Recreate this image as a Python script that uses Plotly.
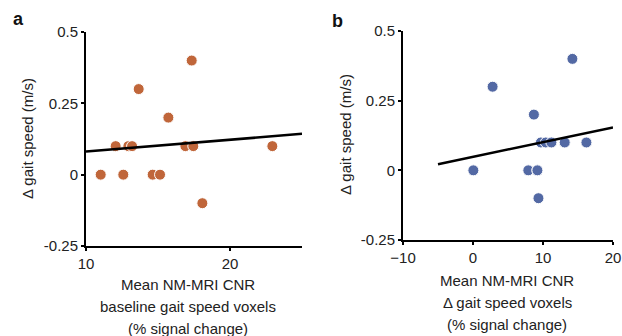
import plotly.graph_objects as go

# Panel a data
a_x = [11.02, 12.06, 12.94, 13.2, 12.59, 13.66, 14.63, 15.14, 15.72, 16.9, 17.45, 17.34, 18.08, 22.94]
a_y = [0.0, 0.1, 0.1, 0.1, 0.0, 0.3, 0.0, 0.0, 0.2, 0.1, 0.1, 0.4, -0.1, 0.1]
a_fit_x = [10, 25]
a_fit_y = [0.081, 0.143]

# Panel b data
b_x = [0.05, 2.8, 8.7, 7.9, 9.2, 9.2, 9.35, 9.7, 10.4, 11.2, 13.1, 13.1, 14.2, 16.2]
b_y = [0.0, 0.3, 0.2, 0.0, 0.0, 0.0, -0.1, 0.1, 0.1, 0.1, 0.1, 0.1, 0.4, 0.1]
b_fit_x = [-5, 20]
b_fit_y = [0.022, 0.154]

y_ticks = [-0.25, 0, 0.25, 0.5]
y_ticktext = ["-0.25", "0", "0.25", "0.5"]
a_xticks = [10, 20]
b_xticks = [-10, 0, 10, 20]

ORANGE = "#C0663A"
BLUE = "#5369A4"
FONT = "Liberation Sans, Arial, sans-serif"

fig = go.Figure()
fig.add_trace(go.Scatter(x=a_x, y=a_y, mode="markers", xaxis="x", yaxis="y",
                         marker=dict(color=ORANGE, size=11, line=dict(color="white", width=1)),
                         showlegend=False, cliponaxis=False))
fig.add_trace(go.Scatter(x=a_fit_x, y=a_fit_y, mode="lines", xaxis="x", yaxis="y",
                         line=dict(color="black", width=2.5), showlegend=False))
fig.add_trace(go.Scatter(x=b_x, y=b_y, mode="markers", xaxis="x2", yaxis="y2",
                         marker=dict(color=BLUE, size=11, line=dict(color="white", width=1)),
                         showlegend=False, cliponaxis=False))
fig.add_trace(go.Scatter(x=b_fit_x, y=b_fit_y, mode="lines", xaxis="x2", yaxis="y2",
                         line=dict(color="black", width=2.5), showlegend=False))

axis_common = dict(showgrid=False, zeroline=False, showline=True, linecolor="black",
                   linewidth=2, ticks="outside", ticklen=3, tickwidth=2, tickcolor="black",
                   automargin=False,
                   tickfont=dict(family=FONT, size=15, color="#222"))

fig.update_layout(
    width=622, height=336, autosize=False,
    margin=dict(l=0, r=0, t=0, b=0, autoexpand=False),
    paper_bgcolor="white", plot_bgcolor="white",
    font=dict(family=FONT, color="#222"),
    xaxis=dict(domain=[86/622, 302/622], range=[10, 25], tickvals=a_xticks,
               anchor="y", **axis_common),
    yaxis=dict(domain=[1-246/336, 1-32/336], range=[-0.25, 0.5], tickvals=y_ticks,
               ticktext=y_ticktext, anchor="x", **axis_common),
    xaxis2=dict(domain=[403/622, 613/622], range=[-10, 20], tickvals=b_xticks,
                anchor="y2", **axis_common),
    yaxis2=dict(domain=[1-240/336, 1-31/336], range=[-0.25, 0.5], tickvals=y_ticks,
                ticktext=y_ticktext, anchor="x2", **axis_common),
)

ann = []
def txt(x, y, s, size=15, bold=False, angle=0):
    ann.append(dict(x=x/622, y=1-y/336, xref="paper", yref="paper", text=("<b>%s</b>" % s) if bold else s,
                    showarrow=False, xanchor="center", yanchor="middle", textangle=angle,
                    font=dict(family=FONT, size=size, color="#111" if bold else "#222")))

txt(18, 19, "a", size=18, bold=True)
txt(337, 21, "b", size=18, bold=True)
txt(27, 139, "Δ gait speed (m/s)", angle=-90)
txt(345, 135, "Δ gait speed (m/s)", angle=-90)
for i, line in enumerate(["Mean NM-MRI CNR", "baseline gait speed voxels", "(% signal change)"]):
    txt(188, 284 + 22*i, line)
for i, line in enumerate(["Mean NM-MRI CNR", "Δ gait speed voxels", "(% signal change)"]):
    txt(507, 280 + 22*i, line)
fig.update_layout(annotations=ann)

fig.write_html("out.html", config={"responsive": False, "displayModeBar": False},
               post_script="document.body.style.margin='0px';document.body.style.overflow='hidden';")
